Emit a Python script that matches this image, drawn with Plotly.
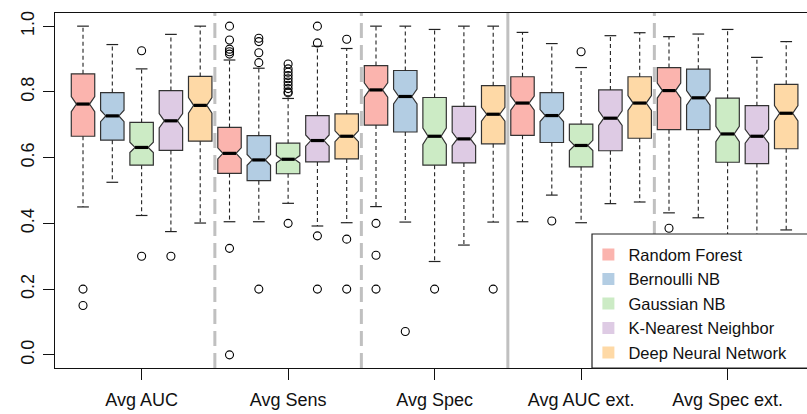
import math
import plotly.graph_objects as go

metrics = ["Avg AUC", "Avg Sens", "Avg Spec", "Avg AUC ext.", "Avg Spec ext."]
models = ["Random Forest", "Bernoulli NB", "Gaussian NB", "K-Nearest Neighbor", "Deep Neural Network"]
colors = ["#FBB4AE", "#B3CDE3", "#CCEBC5", "#DECBE4", "#FED9A6"]

# rows: metrics; columns: models (RF, BNB, GNB, KNN, DNN)
upper_whisker = [
    [1.000, 0.944, 0.870, 0.975, 1.000],
    [0.897, 0.872, 0.780, 0.939, 0.932],
    [1.000, 1.000, 0.990, 1.000, 1.000],
    [0.981, 0.947, 0.874, 0.971, 0.980],
    [0.968, 0.976, 0.990, 0.905, 0.953],
]
q3 = [
    [0.855, 0.798, 0.707, 0.804, 0.847],
    [0.692, 0.667, 0.644, 0.728, 0.733],
    [0.880, 0.865, 0.783, 0.756, 0.819],
    [0.846, 0.798, 0.702, 0.806, 0.846],
    [0.874, 0.869, 0.781, 0.758, 0.823],
]
median = [
    [0.763, 0.727, 0.631, 0.712, 0.759],
    [0.613, 0.593, 0.595, 0.652, 0.665],
    [0.806, 0.786, 0.665, 0.657, 0.732],
    [0.766, 0.728, 0.637, 0.720, 0.766],
    [0.804, 0.782, 0.672, 0.665, 0.735],
]
q1 = [
    [0.665, 0.653, 0.577, 0.622, 0.650],
    [0.552, 0.530, 0.551, 0.587, 0.596],
    [0.699, 0.678, 0.577, 0.584, 0.642],
    [0.668, 0.646, 0.572, 0.621, 0.659],
    [0.685, 0.685, 0.586, 0.582, 0.627],
]
lower_whisker = [
    [0.450, 0.525, 0.424, 0.375, 0.401],
    [0.405, 0.405, 0.461, 0.392, 0.402],
    [0.451, 0.404, 0.284, 0.334, 0.404],
    [0.405, 0.486, 0.402, 0.460, 0.465],
    [0.432, 0.417, 0.300, 0.350, 0.380],
]
outliers = [
    [[0.20, 0.15], [], [0.925, 0.30], [0.30], []],
    [[1.0, 0.958, 0.93, 0.922, 0.915, 0.324, 0.0],
     [0.963, 0.953, 0.919, 0.889, 0.20],
     [0.885, 0.87, 0.86, 0.85, 0.84, 0.83, 0.82, 0.81, 0.80, 0.797, 0.40],
     [1.0, 0.949, 0.362, 0.20],
     [0.96, 0.352, 0.20]],
    [[0.40, 0.303, 0.20], [0.071], [0.20], [], [0.20]],
    [[], [0.407], [0.922], [], []],
    [[0.385], [], [], [], []],
]
n_runs = 170  # sample size per box used for notch span (1.57*IQR/sqrt(n))

FONT = "Liberation Sans, Arial, Helvetica, sans-serif"
BOX_W = 0.8
NOTCH_W = 0.22
CAP_HALF = 0.2
n_models = len(models)

fig = go.Figure()

for j, model in enumerate(models):
    pos = [i * n_models + j + 1 for i in range(len(metrics))]
    q1s = [q1[i][j] for i in range(len(metrics))]
    q3s = [q3[i][j] for i in range(len(metrics))]
    meds = [median[i][j] for i in range(len(metrics))]
    spans = [1.57 * (q3s[i] - q1s[i]) / math.sqrt(n_runs) for i in range(len(metrics))]
    fig.add_trace(go.Box(
        x=pos, q1=q1s, median=meds, q3=q3s,
        lowerfence=q1s, upperfence=q3s, notchspan=spans,
        notched=True, notchwidth=NOTCH_W, width=BOX_W,
        fillcolor=colors[j], line=dict(color="#333333", width=1.2),
        boxpoints=False, showlegend=False, hoverinfo="skip",
    ))

    wx, wy, cx, cy, mx, my, ox, oy = [], [], [], [], [], [], [], []
    half_med = BOX_W / 2 * (1 - 2 * NOTCH_W)
    for i in range(len(metrics)):
        p = pos[i]
        wx += [p, p, None, p, p, None]
        wy += [q3[i][j], upper_whisker[i][j], None, q1[i][j], lower_whisker[i][j], None]
        cx += [p - CAP_HALF, p + CAP_HALF, None, p - CAP_HALF, p + CAP_HALF, None]
        cy += [upper_whisker[i][j]] * 2 + [None] + [lower_whisker[i][j]] * 2 + [None]
        mx += [p - half_med, p + half_med, None]
        my += [median[i][j], median[i][j], None]
        for v in outliers[i][j]:
            ox.append(p)
            oy.append(v)
    fig.add_trace(go.Scatter(x=wx, y=wy, mode="lines", showlegend=False, hoverinfo="skip",
                             line=dict(color="#222222", width=1.1, dash="4px,3px")))
    fig.add_trace(go.Scatter(x=cx, y=cy, mode="lines", showlegend=False, hoverinfo="skip",
                             line=dict(color="#222222", width=1.2)))
    fig.add_trace(go.Scatter(x=mx, y=my, mode="lines", showlegend=False, hoverinfo="skip",
                             line=dict(color="black", width=3.2)))
    fig.add_trace(go.Scatter(x=ox, y=oy, mode="markers", showlegend=False, hoverinfo="skip",
                             marker=dict(symbol="circle-open", size=8, color="black",
                                         line=dict(width=1.1, color="black"))))

# legend entries
for j, model in enumerate(models):
    fig.add_trace(go.Scatter(x=[None], y=[None], mode="markers", name=model,
                             marker=dict(symbol="square", size=9, color=colors[j])))

# group separators
sep_pos = [5.5, 10.5, 15.5, 20.5]
sep_dash = ["15px,7px", "15px,7px", "solid", "15px,7px"]
for sx, d in zip(sep_pos, sep_dash):
    fig.add_shape(type="line", xref="x", yref="paper", x0=sx, x1=sx, y0=0, y1=1,
                  line=dict(color="#C0C0C0", width=3, dash=d), layer="below")

# legend frame
fig.add_shape(type="rect", xref="paper", yref="paper", x0=0.7141, x1=1.2, y0=0, y1=0.3775,
              fillcolor="white", line=dict(color="#222222", width=1.2), layer="above")

centers = [i * n_models + (n_models + 1) / 2 for i in range(len(metrics))]
ytick_vals = [0.0, 0.2, 0.4, 0.6, 0.8, 1.0]
ytick_text = ["0.0", "0.2", "0.4", "0.6", "0.8", "1.0"]

fig.update_layout(
    width=807, height=414,
    margin=dict(l=55, r=0, t=13, b=46, autoexpand=False),
    paper_bgcolor="white", plot_bgcolor="white",
    font=dict(family=FONT, size=18, color="#111111"),
    boxmode="overlay",
    legend=dict(x=0.7093, y=0.368, xanchor="left", yanchor="top",
                bgcolor="rgba(0,0,0,0)", borderwidth=0,
                font=dict(family=FONT, size=16.5, color="#111111"),
                itemsizing="constant", tracegroupgap=0),
    xaxis=dict(range=[0.044, 25.71], showgrid=False, zeroline=False, automargin=False,
               showline=True, linecolor="#111111", linewidth=1.3, mirror=True,
               tickvals=centers, ticktext=metrics, ticks="outside", ticklen=11,
               tickcolor="#111111", tickwidth=1.2, ticklabelstandoff=4),
    yaxis=dict(range=[-0.04, 1.04], showgrid=False, zeroline=False, automargin=False,
               showline=True, linecolor="#111111", linewidth=1.3, mirror=False,
               tickvals=ytick_vals, ticktext=ytick_text, tickangle=-90,
               ticks="outside", ticklen=11, tickcolor="#111111", tickwidth=1.2,
               ticklabelstandoff=2),
)

fig.write_html("out.html", config={"displayModeBar": False},
               post_script="document.body.style.margin='0px';")
